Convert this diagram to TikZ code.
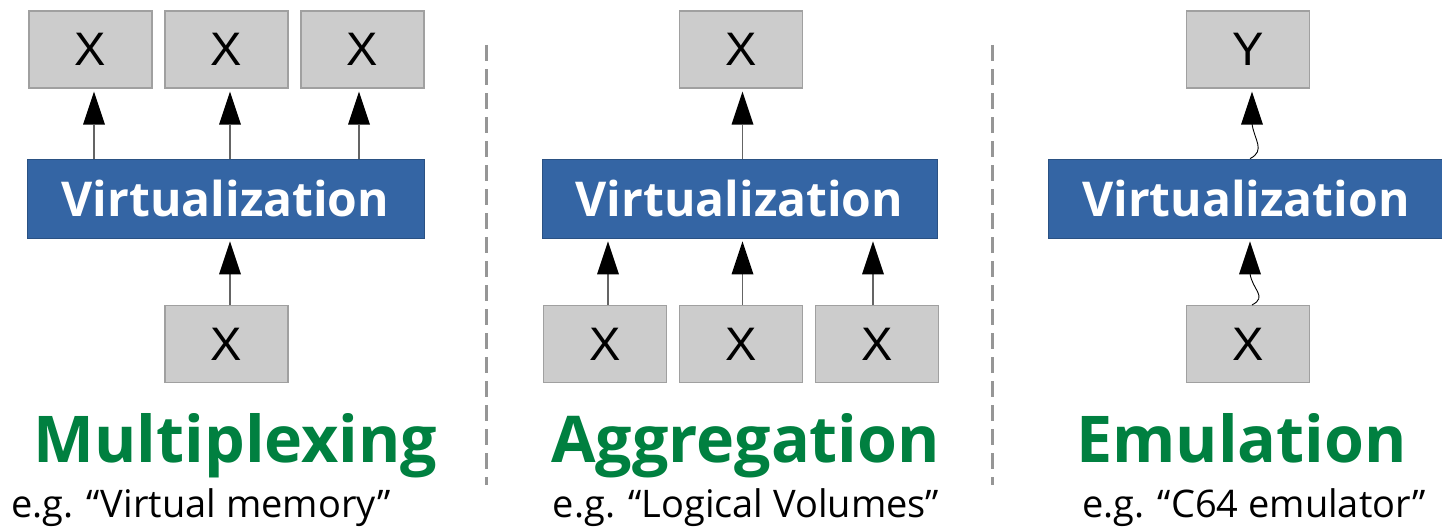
\documentclass[tikz,border=0pt]{standalone}
\usepackage{fontspec}
\setmainfont{Open Sans}
\newfontfamily\boxfont{Liberation Sans}
\usetikzlibrary{arrows.meta}
\definecolor{boxfill}{RGB}{204,204,204}
\definecolor{boxline}{RGB}{160,160,160}
\definecolor{virtblue}{RGB}{52,101,164}
\definecolor{titlegreen}{RGB}{0,128,64}
\definecolor{linegray}{RGB}{100,100,100}
\definecolor{dashgray}{RGB}{150,150,150}
\begin{document}
\begin{tikzpicture}[x=1pt,y=-1pt,
  item/.style={draw=boxline,line width=1.2pt,fill=boxfill,minimum width=123pt,minimum height=77pt,inner sep=0pt,
    font=\boxfont\fontsize{47}{47}\selectfont},
  virt/.style={draw=virtblue!80!black,line width=0.8pt,fill=virtblue,minimum height=79pt,inner sep=0pt,
    text=white,font=\bfseries\fontsize{48}{48}\selectfont},
  title/.style={anchor=base,text=titlegreen,inner sep=0pt,font=\bfseries\fontsize{64.5}{64.5}\selectfont},
  example/.style={anchor=base,inner sep=0pt,font=\fontsize{38}{38}\selectfont},
  arr/.style={draw=linegray,line width=1.4pt,-{Triangle[length=33pt,width=22pt,black,line width=0pt]},shorten >=3pt},
  wavy/.style={draw=black,line width=0.9pt,-{Triangle[length=33pt,width=22pt,black,line width=0pt]},shorten >=3pt},
  sep/.style={draw=dashgray,line width=3pt,dash pattern=on 16pt off 8pt}]
\useasboundingbox (0,0) rectangle (1442,527);

% separators
\coordinate (s1a) at (486,45);  \coordinate (s1b) at (486,485);
\coordinate (s2a) at (992,45);  \coordinate (s2b) at (992,485);
\draw[sep] (s1a) -- (s1b);
\draw[sep] (s2a) -- (s2b);

% ---- Multiplexing ----
\node[item] (m1) at (90.5,49.5) {X};
\node[item] (m2) at (226.5,49.5) {X};
\node[item] (m3) at (362.5,49.5) {X};
\node[virt,minimum width=397pt] (mv) at (225.5,198.5) {Virtualization};
\node[item] (m0) at (226.5,344) {X};
\draw[arr] ([xshift=3.5pt]m1.south |- mv.north) -- ([xshift=3.5pt]m1.south);
\draw[arr] ([xshift=3.5pt]m2.south |- mv.north) -- ([xshift=3.5pt]m2.south);
\draw[arr] ([xshift=-3.5pt]m3.south |- mv.north) -- ([xshift=-3.5pt]m3.south);
\draw[arr] ([xshift=3.5pt]m0.north) -- ([xshift=3.5pt]m0.north |- mv.south);
\node[title] (mt) at (235.5,462) {Multiplexing};
\node[example] (me) at (201,517) {e.g. “Virtual memory”};

% ---- Aggregation ----
\node[item] (a0) at (741,49.5) {X};
\node[virt,minimum width=395pt] (av) at (739.5,198.5) {Virtualization};
\node[item] (a1) at (605,344) {X};
\node[item] (a2) at (741,344) {X};
\node[item] (a3) at (877,344) {X};
\draw[arr] ([xshift=1.5pt]a0.south |- av.north) -- ([xshift=1.5pt]a0.south);
\draw[arr] ([xshift=3pt]a1.north) -- ([xshift=3pt]a1.north |- av.south);
\draw[arr] ([xshift=1.5pt]a2.north) -- ([xshift=1.5pt]a2.north |- av.south);
\draw[arr] ([xshift=-4pt]a3.north) -- ([xshift=-4pt]a3.north |- av.south);
\node[title] (at) at (745.5,462) {Aggregation};
\node[example] (ae) at (746,517) {e.g. “Logical Volumes”};

% ---- Emulation ----
\node[item] (ey) at (1248,49.5) {Y};
\node[virt,minimum width=396pt] (ev) at (1246,198.5) {Virtualization};
\node[item] (ex) at (1248,344) {X};
% wavy connectors: an S-bend, then a short straight run under the head
\draw[wavy] ([xshift=4pt]ev.north) .. controls +(16,-8) and +(2,16) .. ([xshift=4pt,yshift=-35pt]ey.south) -- ([xshift=4pt]ey.south);
\draw[wavy] ([xshift=4pt]ex.north) .. controls +(16,-8) and +(2,16) .. ([xshift=4pt,yshift=-35pt]ev.south) -- ([xshift=4pt]ev.south);
\node[title] (et) at (1241.5,462) {Emulation};
\node[example] (ee) at (1254,517) {e.g. “C64 emulator”};
\end{tikzpicture}
\end{document}
